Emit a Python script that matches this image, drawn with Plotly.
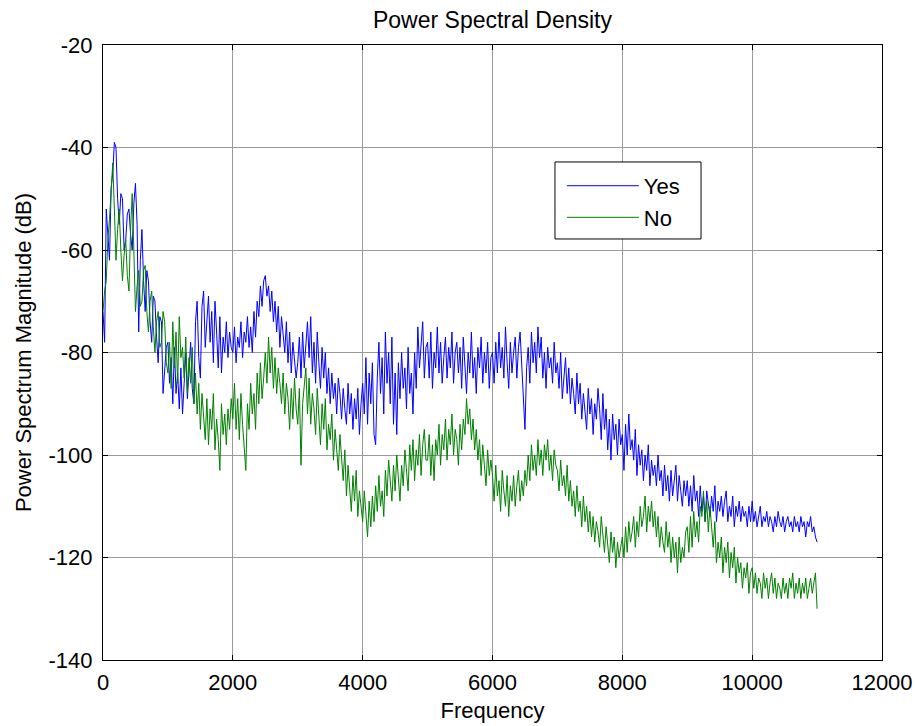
import numpy as np
import plotly.graph_objects as go

# frequency bins (Hz), 25 Hz spacing from 0 to 11000
freq = np.arange(0, 11001, 25)

yes_db = [
    # 0 - 975
    -72, -78, -52, -58, -62, -48, -45, -39, -40, -50,
    -55, -49, -50, -60, -58, -53, -52, -57, -60, -51,
    -47, -55, -76, -62, -56, -66, -72, -64, -66, -74,
    -78, -69, -70, -77, -82, -73, -74, -88, -84, -79,
    # 1000 - 1975
    -78, -86, -81, -90, -79, -88, -84, -91, -83, -92,
    -86, -80, -89, -82, -78, -87, -90, -74, -70, -81,
    -85, -71, -68, -79, -74, -69, -78, -72, -82, -70,
    -76, -83, -73, -84, -77, -80, -74, -81, -76, -79,
    # 2000 - 2975
    -80, -75, -82, -77, -79, -74, -81, -76, -78, -73,
    -79, -75, -80, -72, -77, -70, -73, -67, -71, -66,
    -65, -69, -67, -72, -68, -74, -70, -76, -71, -79,
    -73, -77, -80, -74, -82, -76, -84, -78, -81, -85,
    # 3000 - 3975
    -82, -77, -85, -76, -83, -79, -74, -81, -73, -84,
    -78, -86, -76, -82, -87, -79, -85, -80, -88, -83,
    -90, -84, -89, -86, -92, -85, -88, -93, -87, -91,
    -94, -86, -92, -88, -95, -89, -93, -87, -96, -90,
    # 4000 - 4975
    -86, -92, -81, -94, -84, -90, -82, -96, -98, -85,
    -78, -88, -81, -92, -76, -86, -80, -90, -77, -94,
    -84, -96, -82, -89, -80, -87, -83, -91, -79, -88,
    -84, -92, -80, -87, -75, -83, -78, -74, -85, -79,
    # 5000 - 5975
    -78, -85, -76, -87, -80, -83, -75, -84, -78, -86,
    -81, -77, -85, -79, -83, -76, -86, -80, -78, -84,
    -79, -87, -77, -82, -88, -80, -84, -76, -85, -81,
    -88, -79, -83, -77, -86, -80, -84, -78, -87, -81,
    # 6000 - 6975
    -80, -86, -78, -84, -76, -83, -79, -85, -75, -82,
    -87, -78, -84, -80, -77, -85, -79, -76, -83, -88,
    -95, -83, -79, -86, -76, -82, -78, -84, -75, -81,
    -77, -85, -80, -87, -79, -83, -81, -86, -78, -84,
    # 7000 - 7975
    -82, -87, -80, -89, -84, -81, -88, -83, -90, -85,
    -88, -92, -84, -90, -86, -93, -88, -91, -95, -87,
    -92, -89, -96, -90, -93, -87, -91, -97, -88, -95,
    -91, -99, -93, -101, -92, -97, -94, -100, -93, -98,
    # 8000 - 8975
    -96, -103, -94, -100, -92, -99, -97, -101, -95, -104,
    -98, -102, -99, -105, -100, -103, -98, -106, -101, -104,
    -102, -106, -100, -105, -103, -108, -102, -107, -104, -109,
    -103, -108, -105, -102, -109, -104, -107, -110, -105, -108,
    # 9000 - 9975
    -105, -110, -106, -111, -104, -109, -107, -112, -106, -111,
    -108, -113, -107, -110, -112, -108, -111, -106, -113, -109,
    -111, -108, -112, -109, -107, -113, -110, -112, -108, -114,
    -110, -112, -109, -113, -110, -112, -111, -114, -110, -113,
    # 10000 - 11000
    -109, -113, -111, -114, -112, -110, -114, -112, -113, -111,
    -114, -112, -113, -115, -112, -114, -111, -113, -114, -112,
    -115, -113, -112, -114, -113, -115, -112, -114, -113, -115,
    -112, -114, -113, -116, -113, -114, -112, -115, -114, -116,
    -117,
]

no_db = [
    # 0 - 975
    -72, -68, -66, -58, -54, -48, -43, -52, -62, -56,
    -52, -60, -66, -61, -58, -65, -68, -56, -49, -60,
    -72, -67, -64, -71, -70, -64, -63, -72, -76, -70,
    -68, -75, -80, -74, -72, -79, -78, -72, -74, -82,
    # 1000 - 1975
    -84, -78, -87, -74, -83, -76, -86, -73, -81, -79,
    -85, -77, -88, -81, -86, -79, -90, -84, -92, -86,
    -95, -88, -93, -97, -89, -98, -91, -95, -88, -99,
    -93, -97, -103, -90, -96, -92, -98, -91, -95, -89,
    # 2000 - 2975
    -93, -86, -95, -89, -97, -88, -94, -98, -103, -90,
    -95, -86, -92, -88, -95, -84, -90, -82, -89, -85,
    -80, -86, -77, -84, -79, -87, -81, -88, -83, -86,
    -90, -84, -92, -86, -89, -95, -87, -93, -85, -91,
    # 3000 - 3975
    -94, -87, -102, -90, -86, -83, -92, -85, -94, -88,
    -91, -96, -87, -93, -98, -90, -95, -89, -99, -94,
    -97, -92, -101, -95, -99, -103, -96, -101, -105, -99,
    -108, -102, -106, -111, -104, -109, -103, -112, -107, -110,
    # 4000 - 4975
    -113, -107, -111, -116, -109, -114, -108, -113, -106, -111,
    -104, -110, -107, -112, -103, -108, -101, -106, -109, -102,
    -107, -100, -105, -109, -102, -106, -99, -104, -107, -98,
    -103, -97, -105, -99, -102, -96, -104, -98, -95, -101,
    # 5000 - 5975
    -101, -96, -104, -98, -105, -97, -100, -94, -102, -96,
    -99, -93, -101, -95, -98, -92, -100, -95, -97, -102,
    -94, -99, -93, -96, -89, -94, -91, -97, -93, -99,
    -95, -101, -97, -104, -98, -102, -106, -99, -104, -101,
    # 6000 - 6975
    -104, -109, -102, -108, -105, -111, -103, -107, -110, -104,
    -112, -106, -109, -104, -110, -106, -103, -109, -105, -108,
    -103, -106, -100, -105, -98, -103, -100, -104, -97, -102,
    -99, -104, -98, -101, -97, -103, -100, -105, -99, -102,
    # 7000 - 7975
    -103, -107, -101, -106, -104, -108, -102, -109, -105, -110,
    -107, -112, -106, -111, -109, -114, -108, -113, -110, -115,
    -111, -116, -112, -117, -113, -115, -118, -112, -116, -119,
    -114, -118, -121, -115, -119, -116, -122, -117, -120, -118,
    # 8000 - 8975
    -116, -120, -114, -119, -113, -117, -115, -112, -118, -113,
    -116, -110, -114, -112, -108, -115, -110, -113, -109, -114,
    -111, -116, -112, -118, -114, -117, -119, -113, -118, -115,
    -121, -116, -120, -117, -123, -116, -121, -118, -120, -115,
    # 9000 - 9975
    -114, -119, -112, -118, -111, -116, -113, -117, -110, -112,
    -107, -113, -109, -115, -110, -114, -118, -113, -121, -117,
    -120, -116, -123, -118, -121, -117, -124, -119, -122, -118,
    -125, -120, -123, -121, -126, -122, -124, -121, -127, -123,
    # 10000 - 11000
    -122, -126, -123, -127, -124, -125, -128, -123, -126, -124,
    -128, -125, -123, -127, -124, -128, -125, -126, -128, -124,
    -127, -125, -128, -124, -126, -123, -128, -125, -127, -124,
    -128, -125, -127, -124, -128, -126, -124, -127, -125, -123,
    -130,
]

assert len(yes_db) == len(freq) and len(no_db) == len(freq), (len(freq), len(yes_db), len(no_db))

x_ticks = [0, 2000, 4000, 6000, 8000, 10000, 12000]
y_ticks = [-140, -120, -100, -80, -60, -40, -20]

FONT = "Liberation Sans, Arial, sans-serif"
FS = 22

fig = go.Figure()
fig.add_trace(go.Scatter(x=freq, y=yes_db, mode="lines", name="Yes",
                         line=dict(color="#0000FF", width=1)))
fig.add_trace(go.Scatter(x=freq, y=no_db, mode="lines", name="No",
                         line=dict(color="#008000", width=1)))

axis_common = dict(
    showline=True, linecolor="black", linewidth=1, mirror="allticks",
    ticks="inside", ticklen=5, tickcolor="black",
    showgrid=True, gridcolor="#9a9a9a", gridwidth=1,
    zeroline=False, automargin=False,
    tickfont=dict(family=FONT, size=FS, color="black"),
)

fig.update_xaxes(range=[0, 12000], tickvals=x_ticks, ticktext=[str(v) for v in x_ticks],
                 ticklabelstandoff=3,
                 title=dict(text="Frequency", font=dict(family=FONT, size=FS, color="black"), standoff=8),
                 **axis_common)
fig.update_yaxes(range=[-140, -20], tickvals=y_ticks, ticktext=[str(v) for v in y_ticks],
                 ticklabelstandoff=5,
                 title=dict(text="Power Spectrum Magnitude (dB)", font=dict(family=FONT, size=FS, color="black"), standoff=10),
                 **axis_common)

# legend frame (paper coordinates)
fig.add_shape(type="rect", xref="paper", yref="paper",
              x0=0.5802, x1=0.7677, y0=0.6846, y1=0.8098,
              line=dict(color="black", width=1), fillcolor="white", layer="above")

fig.update_layout(
    template="none",
    width=915, height=726,
    margin=dict(l=103, r=33, t=45, b=66),
    paper_bgcolor="white", plot_bgcolor="white",
    title=dict(text="Power Spectral Density", x=0.5, xref="paper", xanchor="center",
               y=1 - 20 / 726, yanchor="middle",
               font=dict(family=FONT, size=23, color="black")),
    legend=dict(x=0.589, y=0.805, xanchor="left", yanchor="top",
                bgcolor="rgba(0,0,0,0)", borderwidth=0,
                font=dict(family=FONT, size=FS, color="black"),
                itemwidth=72, tracegroupgap=0),
    showlegend=True,
)

fig.write_html("out.html", config={"displayModeBar": False},
               post_script="document.body.style.margin='0';document.body.style.overflow='hidden';")
